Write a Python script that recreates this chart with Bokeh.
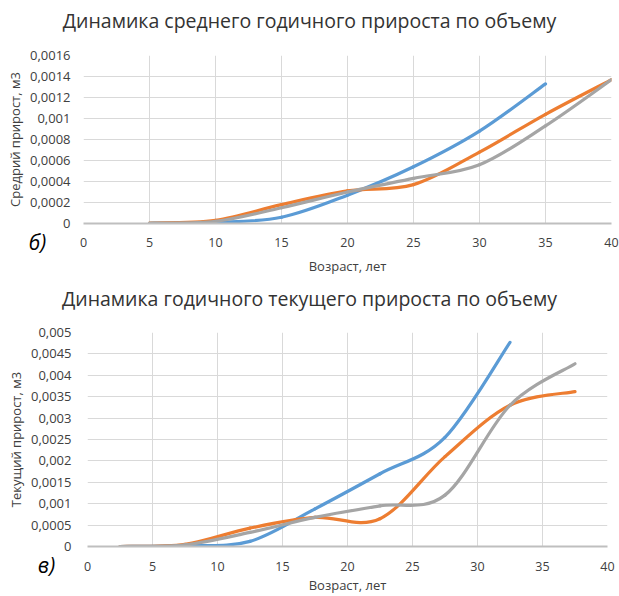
from bokeh.plotting import figure
from bokeh.models import Range1d, FixedTicker, Label
from bokeh.embed import file_html
from bokeh.resources import INLINE

# ---------------- data ----------------
title_top = "Динамика среднего годичного прироста по объему"
title_bot = "Динамика годичного текущего прироста по объему"
xlabel = "Возраст, лет"
ylabel_top = "Средрий прирост, м3"
ylabel_bot = "Текущий прирост, м3"

age_top = [5, 10, 15, 20, 25, 30, 35, 40]
top_blue = [0.0, 0.00001, 0.00006, 0.00027, 0.00054, 0.00088, 0.00133]
top_orange = [0.000005, 0.00003, 0.00018, 0.00031, 0.00037, 0.00068, 0.00104, 0.00137]
top_gray = [0.000005, 0.00002, 0.00015, 0.00030, 0.00043, 0.00056, 0.00093, 0.00137]

age_bot = [2.5, 7.5, 12.5, 17.5, 22.5, 27.5, 32.5, 37.5]
bot_blue = [0.0, 0.00002, 0.00012, 0.00088, 0.0017, 0.00255, 0.00477]
bot_orange = [0.0, 0.00005, 0.00043, 0.00068, 0.00065, 0.0021, 0.0033, 0.00362]
bot_gray = [0.0, 0.00004, 0.00033, 0.00068, 0.00095, 0.0012, 0.0033, 0.00427]

x_ticks = [0, 5, 10, 15, 20, 25, 30, 35, 40]
y_ticks_top = [0, 0.0002, 0.0004, 0.0006, 0.0008, 0.001, 0.0012, 0.0014, 0.0016]
y_labels_top = ["0", "0,0002", "0,0004", "0,0006", "0,0008", "0,001", "0,0012", "0,0014", "0,0016"]
y_ticks_bot = [0, 0.0005, 0.001, 0.0015, 0.002, 0.0025, 0.003, 0.0035, 0.004, 0.0045, 0.005]
y_labels_bot = ["0", "0,0005", "0,001", "0,0015", "0,002", "0,0025", "0,003", "0,0035", "0,004", "0,0045", "0,005"]

colors = ["#5B9BD5", "#ED7D31", "#A5A5A5"]
FONT = "Open Sans"
TXT = "#404040"


def bezier_segments(xs, ys):
    """Excel-style smoothed line: cubic Bezier segments through the points."""
    n = len(xs)
    out = dict(x0=[], y0=[], x1=[], y1=[], cx0=[], cy0=[], cx1=[], cy1=[])
    for i in range(n - 1):
        xp, yp = (xs[i - 1], ys[i - 1]) if i > 0 else (xs[i], ys[i])
        xn, yn = (xs[i + 2], ys[i + 2]) if i + 2 < n else (xs[i + 1], ys[i + 1])
        out["x0"].append(xs[i]); out["y0"].append(ys[i])
        out["x1"].append(xs[i + 1]); out["y1"].append(ys[i + 1])
        out["cx0"].append(xs[i] + (xs[i + 1] - xp) / 6.0)
        out["cy0"].append(ys[i] + (ys[i + 1] - yp) / 6.0)
        out["cx1"].append(xs[i + 1] - (xn - xs[i]) / 6.0)
        out["cy1"].append(ys[i + 1] - (yn - ys[i]) / 6.0)
    return out


def make_fig(title, tag, ylabel, ymax, yticks, ylabels, series, xs, h, borders,
             title_y, tag_xy, x_std, xl_std, y_std, yl_std):
    left, right, top, bottom = borders
    p = figure(width=619, height=h, x_range=Range1d(0, 40), y_range=Range1d(0, ymax),
               output_backend="svg", toolbar_location=None,
               min_border_left=left, min_border_right=right,
               min_border_top=top, min_border_bottom=bottom)
    p.title.text = ""
    p.outline_line_color = None
    p.background_fill_color = "white"
    p.border_fill_color = "white"

    p.xaxis.ticker = FixedTicker(ticks=x_ticks)
    p.yaxis.ticker = FixedTicker(ticks=yticks)
    p.yaxis.major_label_overrides = {t: l for t, l in zip(yticks, ylabels)}
    for ax in (p.xaxis, p.yaxis):
        ax.major_tick_line_color = None
        ax.minor_tick_line_color = None
        ax.major_label_text_font = FONT
        ax.major_label_text_color = TXT
        ax.axis_label_text_font = FONT
        ax.axis_label_text_font_size = "13px"
        ax.axis_label_text_font_style = "normal"
        ax.axis_label_text_color = TXT
    p.xaxis.major_label_text_font_size = "12.5px"
    p.yaxis.major_label_text_font_size = "13px"
    p.xaxis.axis_line_color = "#BFBFBF"
    p.xaxis.axis_line_width = 2
    p.yaxis.axis_line_color = None
    p.xaxis.axis_label = xlabel
    p.yaxis.axis_label = ylabel
    p.xaxis.major_label_standoff = x_std
    p.xaxis.axis_label_standoff = xl_std
    p.yaxis.major_label_standoff = y_std
    p.yaxis.axis_label_standoff = yl_std

    p.xgrid.ticker = FixedTicker(ticks=x_ticks)
    p.ygrid.ticker = FixedTicker(ticks=yticks)
    p.xgrid.grid_line_color = "#D9D9D9"
    p.ygrid.grid_line_color = "#D9D9D9"
    p.xgrid.grid_line_width = 1
    p.ygrid.grid_line_width = 1

    for ys, c in zip(series, colors):
        seg = bezier_segments(xs[:len(ys)], ys)
        p.bezier(x0="x0", y0="y0", x1="x1", y1="y1", cx0="cx0", cy0="cy0",
                 cx1="cx1", cy1="cy1", source=seg, line_color=c, line_width=3.2,
                 line_cap="round")

    p.add_layout(Label(x=309, y=title_y, x_units="canvas", y_units="canvas", text=title,
                       text_align="center", text_baseline="middle",
                       text_font=FONT, text_font_size="19.5px",
                       text_color="#333333"), "above")
    p.add_layout(Label(x=tag_xy[0], y=tag_xy[1], x_units="canvas", y_units="canvas",
                       text=tag, text_align="center", text_baseline="middle",
                       text_font=FONT, text_font_size="21px", text_font_style="italic",
                       text_color="black"), "above")
    return p


p1 = make_fig(title_top, "б)", ylabel_top, 0.0016, y_ticks_top, y_labels_top,
              [top_blue, top_orange, top_gray], age_top, 277, (83, 8, 55, 54),
              20, (37, 241), 8, 7, 7, 3)
p2 = make_fig(title_bot, "в)", ylabel_bot, 0.005, y_ticks_bot, y_labels_bot,
              [bot_blue, bot_orange, bot_gray], age_bot, 319, (87, 12, 55, 49),
              21, (46, 287), 9, 2, 10, 3)

open("out.html", "w").write(file_html([p1, p2], INLINE))
